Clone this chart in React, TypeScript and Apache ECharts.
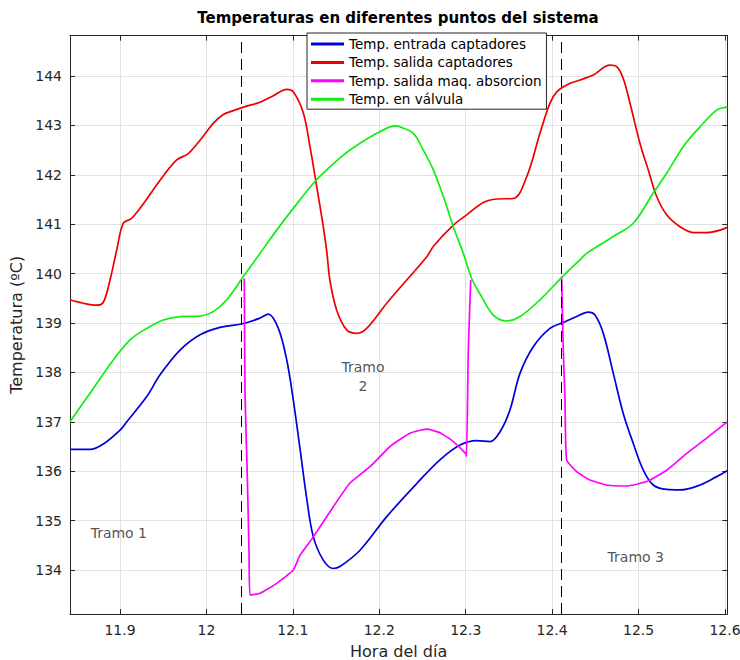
import React, { useEffect, useRef } from "react";
import * as echarts from "echarts";

const TITLE = "Temperaturas en diferentes puntos del sistema";
const X_NAME = "Hora del día";
const Y_NAME = "Temperatura (ºC)";
const SERIES_NAMES = [
  "Temp. entrada captadores",
  "Temp. salida captadores",
  "Temp. salida maq. absorcion",
  "Temp. en válvula",
];
const SERIES_COLORS = ["#0000dd", "#ee0000", "#ff00ff", "#11ee11"];

const X_TICKS = [11.9, 12, 12.1, 12.2, 12.3, 12.4, 12.5, 12.6];
const Y_TICKS = [134, 135, 136, 137, 138, 139, 140, 141, 142, 143, 144];
const X_RANGE = [11.8421, 12.6027];
const Y_RANGE = [133.109, 144.816];

const TRAMO_LIMITS = [12.0427, 12.4102];
const TRAMO_LABELS = ["Tramo 1", "Tramo\n2", "Tramo 3"];
const TRAMO_T = [11.8986, 12.1811, 12.4968];
const TRAMO_V = [134.74, 137.91, 134.27];

// Temp. entrada captadores
const ENTRADA_T = [
  11.8421, 11.8653, 11.8807, 11.9, 11.9078, 11.9309, 11.9463, 11.9694, 11.9926,
  12.0157, 12.0427, 12.062, 12.0716, 12.0832, 12.0929, 12.1005, 12.1083, 12.116,
  12.1237, 12.1352, 12.1468, 12.1545, 12.1777, 12.2086, 12.2433, 12.2702, 12.2934,
  12.3127, 12.3281, 12.3397, 12.3512, 12.3628, 12.3782, 12.3975, 12.4129, 12.4284,
  12.4418, 12.4496, 12.4592, 12.4708, 12.4823, 12.4939, 12.5055, 12.517, 12.5325,
  12.5479, 12.5711, 12.5904, 12.6027,
];
const ENTRADA_V = [
  136.44, 136.44, 136.55, 136.83, 137.0, 137.51, 137.95, 138.45, 138.76,
  138.91, 138.99, 139.1, 139.18, 138.89, 138.25, 137.44, 136.45, 135.45,
  134.67, 134.2, 134.03, 134.07, 134.4, 135.08, 135.75, 136.23, 136.53,
  136.62, 136.6, 136.8, 137.24, 137.98, 138.52, 138.89, 139.01, 139.13,
  139.22, 139.16, 138.79, 137.98, 137.17, 136.56, 136.02, 135.72, 135.63,
  135.62, 135.72, 135.89, 136.01,
];

// Temp. salida captadores
const SALIDA_T = [
  11.8421, 11.8575, 11.873, 11.8807, 11.8884, 11.8962, 11.9038, 11.9135, 11.9289,
  11.9463, 11.9656, 11.979, 11.9926, 12.0079, 12.0195, 12.0311, 12.0446, 12.062,
  12.0774, 12.0929, 12.1005, 12.1121, 12.1198, 12.1276, 12.1352, 12.1392, 12.143,
  12.1507, 12.1623, 12.1739, 12.1854, 12.2086, 12.2317, 12.2549, 12.2625, 12.2856,
  12.3011, 12.3204, 12.3358, 12.3551, 12.3706, 12.3859, 12.3975, 12.4053, 12.4168,
  12.4322, 12.4476, 12.4669, 12.4747, 12.4823, 12.4901, 12.5016, 12.5112, 12.521,
  12.5325, 12.5479, 12.5633, 12.5788, 12.5942, 12.6027,
];
const SALIDA_V = [
  139.47, 139.4, 139.36, 139.42, 139.87, 140.48, 141.02, 141.12, 141.46,
  141.89, 142.3, 142.43, 142.7, 143.04, 143.22, 143.3, 143.38, 143.47,
  143.6, 143.73, 143.68, 143.25, 142.57, 141.76, 140.95, 140.45, 139.85,
  139.26, 138.86, 138.79, 138.89, 139.4, 139.87, 140.34, 140.55, 140.98,
  141.19, 141.44, 141.51, 141.52, 141.96, 142.84, 143.45, 143.68, 143.82,
  143.92, 144.02, 144.22, 144.19, 143.95, 143.45, 142.64, 142.1, 141.56,
  141.19, 140.95, 140.83, 140.83, 140.88, 140.94,
];

// Temp. salida maq. absorcion (visible stretches; elsewhere it lies under the valve curve)
const ABSORCION_A_T = [
  12.0438, 12.0446, 12.0473, 12.0493, 12.0504, 12.062, 12.0813, 12.1005, 12.1083,
  12.1237, 12.1468, 12.1661, 12.1893, 12.2124, 12.2355, 12.2549, 12.2702, 12.2856,
  12.3003, 12.301, 12.303, 12.3058,
];
const ABSORCION_A_V = [
  139.9, 137.58, 135.89, 134.34, 133.49, 133.53, 133.73, 134.0, 134.3,
  134.67, 135.28, 135.76, 136.09, 136.5, 136.77, 136.85, 136.78, 136.6,
  136.35, 136.3, 138.45, 139.87,
];
const ABSORCION_B_T = [
  12.411, 12.4129, 12.4149, 12.4168, 12.4284, 12.4438, 12.4631, 12.4862, 12.5094,
  12.5325, 12.5557, 12.5788, 12.6027,
];
const ABSORCION_B_V = [
  139.94, 138.45, 137.44, 136.23, 135.99, 135.82, 135.72, 135.7, 135.79,
  136.02, 136.36, 136.67, 137.0,
];

// Temp. en válvula
const VALVULA_T = [
  11.8421, 11.8653, 11.8922, 11.9116, 11.9309, 11.9501, 11.9694, 11.9926, 12.0079,
  12.0235, 12.0427, 12.062, 12.0813, 12.1005, 12.1237, 12.1392, 12.1584, 12.1777,
  12.197, 12.2124, 12.2201, 12.224, 12.2394, 12.2509, 12.2625, 12.2741, 12.2856,
  12.2972, 12.3069, 12.3185, 12.3319, 12.3474, 12.3628, 12.3859, 12.411, 12.4322,
  12.44, 12.4708, 12.4939, 12.517, 12.5325, 12.5517, 12.5711, 12.5904, 12.6027,
];
const VALVULA_V = [
  137.0, 137.58, 138.25, 138.66, 138.89, 139.06, 139.13, 139.14, 139.23,
  139.47, 139.94, 140.41, 140.88, 141.32, 141.83, 142.1, 142.4, 142.64,
  142.84, 142.97, 142.99, 142.97, 142.84, 142.5, 142.1, 141.56, 140.95,
  140.41, 139.9, 139.53, 139.16, 139.04, 139.13, 139.47, 139.92, 140.28,
  140.41, 140.75, 141.02, 141.63, 142.03, 142.57, 142.97, 143.31, 143.37,
];

const zip = (t: number[], v: number[]) => t.map((x, i) => [x, v[i]]);

const FONT = "DejaVu Sans";
const AXIS_COLOR = "#262626";
const LINE_W = 1.7;

export default function App() {
  const ref = useRef<HTMLDivElement>(null);

  useEffect(() => {
    if (!ref.current) return;
    const chart = echarts.init(ref.current, undefined, { renderer: "svg" });

    const lineSeries = (name: string, color: string, data: number[][], smooth: number, extra: any = {}) => ({
      name,
      type: "line",
      data,
      symbol: "none",
      showSymbol: false,
      smooth,
      lineStyle: { color, width: LINE_W },
      itemStyle: { color },
      ...extra,
    });

    const commonTick = {
      show: true,
      inside: true,
      length: 5,
      lineStyle: { color: AXIS_COLOR, width: 1 },
    };

    chart.setOption({
      animation: false,
      backgroundColor: "#ffffff",
      title: {
        text: TITLE,
        left: 398,
        top: 10,
        padding: 0,
        textAlign: "center",
        textStyle: { fontFamily: FONT, fontSize: 15, fontWeight: "bold", color: "#000" },
      },
      legend: {
        data: SERIES_NAMES,
        orient: "vertical",
        left: 307,
        top: 33,
        padding: [4, 5, 3, 4],
        itemGap: 4.4,
        itemWidth: 33,
        itemHeight: 3,
        icon: "rect",
        selectedMode: false,
        backgroundColor: "#ffffff",
        borderColor: AXIS_COLOR,
        borderWidth: 1,
        textStyle: { fontFamily: FONT, fontSize: 13.5, color: "#000" },
        z: 10,
      },
      grid: {
        left: 70,
        right: 12.7,
        top: 35.7,
        bottom: 46,
        containLabel: false,
        outerBoundsMode: "none",
      },
      xAxis: [
        {
          type: "value",
          position: "bottom",
          min: X_RANGE[0],
          max: X_RANGE[1],
          name: X_NAME,
          nameLocation: "middle",
          nameGap: 29,
          nameTextStyle: { fontFamily: FONT, fontSize: 16, color: AXIS_COLOR },
          axisLine: { show: true, lineStyle: { color: AXIS_COLOR, width: 1 } },
          axisTick: { ...commonTick, customValues: X_TICKS },
          axisLabel: { customValues: X_TICKS, fontFamily: FONT, fontSize: 14, color: AXIS_COLOR, margin: 9 },
          splitLine: { show: true, lineStyle: { color: "#e2e2e2", width: 1 } },
        },
        {
          type: "value",
          position: "top",
          min: X_RANGE[0],
          max: X_RANGE[1],
          axisLine: { show: true, lineStyle: { color: AXIS_COLOR, width: 1 } },
          axisTick: { ...commonTick, customValues: X_TICKS },
          axisLabel: { show: false },
          splitLine: { show: false },
        },
      ],
      yAxis: [
        {
          type: "value",
          position: "left",
          min: Y_RANGE[0],
          max: Y_RANGE[1],
          name: Y_NAME,
          nameLocation: "middle",
          nameGap: 39,
          nameTextStyle: { fontFamily: FONT, fontSize: 16, color: AXIS_COLOR },
          axisLine: { show: true, lineStyle: { color: AXIS_COLOR, width: 1 } },
          axisTick: { ...commonTick, customValues: Y_TICKS },
          axisLabel: { customValues: Y_TICKS, fontFamily: FONT, fontSize: 14, color: AXIS_COLOR, margin: 8 },
          splitLine: { show: true, lineStyle: { color: "#e2e2e2", width: 1 } },
        },
        {
          type: "value",
          position: "right",
          min: Y_RANGE[0],
          max: Y_RANGE[1],
          axisLine: { show: true, lineStyle: { color: AXIS_COLOR, width: 1 } },
          axisTick: { ...commonTick, customValues: Y_TICKS },
          axisLabel: { show: false },
          splitLine: { show: false },
        },
      ],
      series: [
        lineSeries(SERIES_NAMES[0], SERIES_COLORS[0], zip(ENTRADA_T, ENTRADA_V), 0.35, {
          markLine: {
            silent: true,
            symbol: ["none", "none"],
            label: { show: false },
            lineStyle: { color: "#000", type: [11, 6], width: 1 },
            data: TRAMO_LIMITS.map((t) => ({ xAxis: t })),
          },
        }),
        lineSeries(SERIES_NAMES[1], SERIES_COLORS[1], zip(SALIDA_T, SALIDA_V), 0.35),
        lineSeries(SERIES_NAMES[2], SERIES_COLORS[2], zip(ABSORCION_A_T, ABSORCION_A_V), 0.15),
        lineSeries(SERIES_NAMES[2], SERIES_COLORS[2], zip(ABSORCION_B_T, ABSORCION_B_V), 0.15),
        lineSeries(SERIES_NAMES[3], SERIES_COLORS[3], zip(VALVULA_T, VALVULA_V), 0.35),
        {
          name: "tramos",
          type: "scatter",
          silent: true,
          symbolSize: 1,
          itemStyle: { color: "rgba(0,0,0,0)" },
          label: {
            show: true,
            position: "inside",
            formatter: "{b}",
            fontFamily: FONT,
            fontSize: 14,
            lineHeight: 19,
            color: AXIS_COLOR,
          },
          data: TRAMO_LABELS.map((name, i) => ({ name, value: [TRAMO_T[i], TRAMO_V[i]] })),
        },
      ],
    });

    return () => chart.dispose();
  }, []);

  return (
    <div
      ref={ref}
      style={{ position: "fixed", left: 0, top: 0, width: 740, height: 660, background: "#fff" }}
    />
  );
}
